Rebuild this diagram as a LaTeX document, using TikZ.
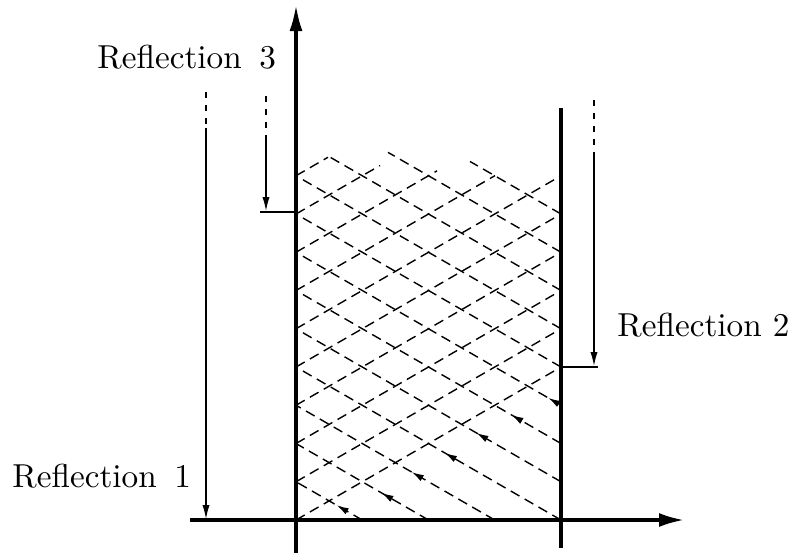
\documentclass[tikz,border=0pt]{standalone}
\usetikzlibrary{arrows.meta,decorations.markings}
\begin{document}
\begin{tikzpicture}[x=0.5pt,y=0.5pt,
  axis/.style={line width=1.6pt},
  wave/.style={line width=0.7pt, dash pattern=on 5pt off 3pt},
  wavearrow/.style={postaction={decorate}, decoration={markings, mark=at position #1 with {\arrow{Latex[length=6pt,width=3.4pt]}}}},
  marker/.style={line width=0.65pt},
  markerdash/.style={line width=0.65pt, dash pattern=on 3pt off 3.5pt},
  marrow/.style={-{Latex[length=7pt,width=3.6pt]}},
  lbl/.style={anchor=base west, inner sep=0pt, font=\fontsize{10}{12}\selectfont},
]
\useasboundingbox (0,0) rectangle (791,554);

% up-right rays
\foreach \k/\e in {0/265,1/265,2/265,3/265,4/265,5/265,6/199,7/141,8/84,9/32}
  \draw[wave] (296,{34+\k*38.25}) -- ({296+\e},{34+\k*38.25+\e*0.57735});

% up-left rays
\foreach \m/\p in {1/0.385,2/0.355,3/0.418,4/0.438}
  \draw[wave, wavearrow=\p] ({296+\m*66.25},34) -- (296,{34+\m*38.25});
\foreach \m/\p in {5/0.319,6/0.187,7/0.048}
  \draw[wave, wavearrow=\p] (561,{34+(\m-4)*38.25}) -- (296,{34+\m*38.25});
\foreach \m in {8,9}
  \draw[wave] (561,{34+(\m-4)*38.25}) -- (296,{34+\m*38.25});
\foreach \m/\e in {10/32,11/92,12/174}
  \draw[wave] (561,{34+(\m-4)*38.25}) -- ({296+\e},{34+\m*38.25-\e*0.57735});

% axes and wall
\draw[axis,-{Latex[length=12.5pt,width=7pt]}] (190,34) -- (684,34);
\draw[axis,-{Latex[length=13pt,width=6.5pt]}] (296,1) -- (296,549);
\draw[axis] (561,6) -- (561,446);

% reflection markers
\draw[markerdash] (206,462) -- (206,426);
\draw[marker,marrow] (206,426) -- (206,35);
\draw[markerdash] (266,458) -- (266,413);
\draw[marker,marrow] (266,413) -- (266,343);
\draw[marker] (260,342) -- (296,342);
\draw[markerdash] (594,454) -- (594,397);
\draw[marker,marrow] (594,397) -- (594,188);
\draw[marker] (561,187) -- (598,187);

% labels
\node[lbl] (r1) at (12,66.7) {\scalebox{1.66}{Reflection\hspace{2pt} 1}};
\node[lbl] (r3) at (97,485.5) {\scalebox{1.66}{Reflection\hspace{2pt} 3}};
\node[lbl] (r2) at (617,217.3) {\scalebox{1.66}{Reflection 2}};
\end{tikzpicture}
\end{document}
